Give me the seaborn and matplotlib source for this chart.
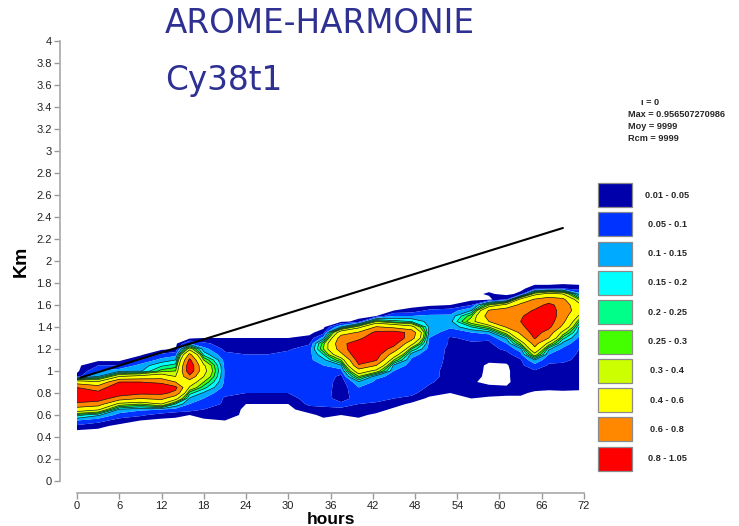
import numpy as np
import matplotlib
matplotlib.use("Agg")
import matplotlib.pyplot as plt
from matplotlib.patches import Rectangle
from matplotlib.ticker import FuncFormatter
import seaborn as sns

# ---- contour classes -------------------------------------------------------
levels = [0.01, 0.05, 0.1, 0.15, 0.2, 0.25, 0.3, 0.4, 0.6, 0.8, 1.05]
class_labels = ["0.01 - 0.05", "0.05 - 0.1", "0.1 - 0.15", "0.15 - 0.2",
                "0.2 - 0.25", "0.25 - 0.3", "0.3 - 0.4", "0.4 - 0.6",
                "0.6 - 0.8", "0.8 - 1.05"]
class_colors = ["#0000AA", "#0033FF", "#00AAFF", "#00FFFF", "#00FF88",
                "#44FF00", "#CCFF00", "#FFFF00", "#FF8800", "#FF0000"]
line_levels = [0.15, 0.2, 0.25, 0.3, 0.4, 0.6, 0.8]

# ---- vertical grid (km) ----------------------------------------------------
heights_km = np.round(np.arange(0.40, 1.851, 0.05), 2)

# ---- field profiles: forecast hour -> (lowest level km, values every 50 m) -
profiles = {
    0.0:  (0.45, [0, .04, .10, .22, .5, .75, .95, .95, .8, .5, .03, 0]),
    3.0:  (0.45, [0, .02, .07, .16, .42, .7, .9, .85, .7, .42, .15, .1, .05, 0]),
    6.0:  (0.50, [0, .03, .08, .14, .35, .7, .92, .95, .8, .4, .13, .05, 0]),
    9.0:  (0.50, [0, .01, .06, .11, .3, .6, .85, .95, .8, .45, .14, .12, .05, 0]),
    12.0: (0.55, [0, .03, .1, .4, .65, .85, .95, .75, .5, .27, .19, .12, .06, 0]),
    14.0: (0.55, [0, .02, .08, .2, .45, .75, .85, .6, .4, .3, .22, .15, .08, .01, 0]),
    16.0: (0.55, [0, .01, .07, .1, .14, .22, .38, .5, .75, .95, .96, .85, .65, .35, .1, 0]),
    18.0: (0.55, [0, .03, .05, .07, .1, .14, .22, .3, .4, .45, .42, .3, .18, .12, .06, .01, 0]),
    21.0: (0.50, [0, .01, .03, .04, .045, .045, .06, .08, .09, .09, .09, .085, .08, .06, .04, .03, .01, 0]),
    24.0: (0.65, [0, .01, .03, .05, .07, .08, .08, .08, .07, .06, .05, .04, .03, .01, 0]),
    27.0: (0.65, [0, .01, .03, .05, .07, .08, .08, .08, .07, .06, .05, .04, .03, .01, 0]),
    30.0: (0.65, [0, .01, .03, .05, .07, .08, .08, .08, .08, .07, .06, .045, .03, .01, 0]),
    33.0: (0.60, [0, .03, .06, .07, .08, .08, .085, .09, .09, .09, .09, .08, .07, .045, .02, 0]),
    35.0: (0.55, [0, .02, .04, .06, .07, .075, .08, .08, .085, .09, .1, .13, .2, .3, .28, .12, .03, 0]),
    37.5: (0.55, [0, .01, .045, .06, .03, .02, .02, .025, .035, .08, .14, .3, .55, .7, .75, .7, .5, .15, 0]),
    40.0: (0.55, [0, .02, .04, .05, .07, .09, .1, .14, .3, .5, .78, .9, .98, .98, .9, .75, .62, .35, .02, 0]),
    42.5: (0.60, [0, .03, .045, .06, .07, .08, .09, .11, .35, .6, .82, .9, .95, .97, .95, .85, .62, .3, .01, 0]),
    45.0: (0.65, [0, .03, .05, .07, .08, .085, .09, .1, .13, .3, .5, .72, .88, .95, .88, .55, .22, .1, .01, 0]),
    47.5: (0.70, [0, .04, .06, .07, .08, .08, .085, .085, .09, .12, .25, .45, .7, .75, .45, .2, .1, .02, 0]),
    50.0: (0.75, [0, .03, .045, .055, .06, .06, .065, .07, .075, .08, .09, .1, .13, .14, .13, .11, .06, 0]),
    53.0: (0.75, [0, .01, .03, .035, .04, .04, .04, .04, .04, .04, .045, .045, .07, .11, .13, .11, .07, .01, 0]),
    56.0: (0.70, [0, .01, .03, .025, .015, .025, .03, .035, .04, .04, .04, .045, .06, .1, .2, .35, .28, .15, .05, 0]),
    58.5: (0.75, [0, .03, .02, 0, 0, 0, 0, .02, .03, .035, .04, .06, .12, .3, .6, .7, .62, .3, 0, .015, 0]),
    61.0: (0.75, [0, .02, .015, 0, 0, 0, .005, .02, .035, .06, .1, .16, .35, .62, .72, .75, .72, .45, .05, 0]),
    63.0: (0.75, [0, .02, .03, .035, .04, .04, .04, .045, .08, .13, .3, .5, .65, .75, .8, .78, .72, .65, .45, .02, 0]),
    65.0: (0.80, [0, .03, .04, .04, .045, .08, .15, .35, .55, .68, .82, .88, .92, .92, .88, .82, .72, .62, .35, .03, 0]),
    67.0: (0.80, [0, .02, .035, .04, .04, .045, .06, .1, .16, .35, .6, .72, .85, .9, .92, .9, .85, .7, .45, .03, 0]),
    69.0: (0.80, [0, .025, .035, .04, .04, .045, .055, .07, .09, .13, .22, .35, .55, .65, .7, .72, .72, .65, .4, .05, 0]),
    71.3: (0.80, [0, .02, .035, .04, .04, .04, .045, .045, .05, .07, .09, .12, .15, .25, .38, .5, .45, .3, .12, .03, 0]),
}

# ---- reference slope line ---------------------------------------------------
trend_hours = [0.5, 69.0]
trend_km = [0.94, 2.30]

# ---- axis ticks -------------------------------------------------------------
hour_ticks = list(range(0, 73, 6))
km_ticks = [round(0.2 * i, 1) for i in range(21)]

# ---- annotation -------------------------------------------------------------
title_lines = ["AROME-HARMONIE", "Cy38t1"]
stats_lines = ["Max = 0.956507270986", "Moy = 9999", "Rcm = 9999"]
stats_head = "\u0131 = 0"

# assemble the (height x hour) field from the profiles
hours = np.array(sorted(profiles))
field = np.zeros((len(heights_km), len(hours)))
for j, h in enumerate(hours):
    base, vals = profiles[h]
    i0 = int(round((base - heights_km[0]) / 0.05))
    field[i0:i0 + len(vals), j] = vals

# ---- figure -----------------------------------------------------------------
W, H = 739, 526
sns.set_style("ticks")
plt.rcParams["font.family"] = ["Liberation Sans", "DejaVu Sans"]

fig = plt.figure(figsize=(W / 100, H / 100), dpi=100)


def fx(px):
    return px / W


def fy(py):
    return 1 - py / H


ax = fig.add_axes([fx(77), fy(481), fx(584) - fx(77), fy(41) - fy(481)])
ax.set_facecolor("white")

ax.contourf(hours, heights_km, field, levels=levels, colors=class_colors,
            antialiased=True)
ax.contour(hours, heights_km, field, levels=line_levels, colors="black",
           linewidths=0.45)
sns.lineplot(x=trend_hours, y=trend_km, ax=ax, color="black", linewidth=1.5)

ax.set_xlim(0, 72)
ax.set_ylim(0, 4)
ax.set_xticks(hour_ticks)
ax.set_yticks(km_ticks)
ax.yaxis.set_major_formatter(FuncFormatter(lambda v, p: f"{v:g}"))
ax.tick_params(axis="both", length=4, width=1, color="#9a9a9a",
               labelsize=8, labelcolor="#222222", pad=2)
for lab in ax.get_xticklabels() + ax.get_yticklabels():
    lab.set_fontweight("bold")

sns.despine(ax=ax, offset={"left": 12, "bottom": 8.5}, trim=True)
for side in ("left", "bottom"):
    ax.spines[side].set_color("#a8a8a8")
    ax.spines[side].set_linewidth(1.2)

ax.set_ylabel("Km", fontsize=14, fontweight="bold", color="black")
ax.yaxis.set_label_coords((30 - 77) / (584 - 77), 0.5)
ax.set_xlabel("hours", fontsize=12.5, fontweight="bold", color="black")
ax.xaxis.set_label_coords(0.5, -31 / 440)

# titles
fig.text(fx(165), fy(33), title_lines[0], fontsize=23.5, color="#2E3192",
         family="DejaVu Sans", va="baseline", ha="left")
fig.text(fx(165), fy(90), title_lines[1], fontsize=23.5, color="#2E3192",
         family="DejaVu Sans", va="baseline", ha="left")

# statistics block
fig.text(fx(641), fy(105), stats_head, fontsize=6.6, fontweight="bold",
         va="baseline", ha="left")
for k, line in enumerate(stats_lines):
    fig.text(fx(628), fy(117 + 12 * k), line, fontsize=6.6,
             fontweight="bold", va="baseline", ha="left")

# class legend
for k, (lab, col) in enumerate(zip(class_labels, class_colors)):
    top = 183 + 29.3 * k
    fig.patches.append(Rectangle((fx(598), fy(top + 24)), fx(34), 24 / H,
                                 transform=fig.transFigure, facecolor=col,
                                 edgecolor="#8a8a8a", linewidth=0.9))
    fig.text(fx(667), fy(top + 12), lab, fontsize=6.6, fontweight="bold",
             va="center", ha="center")

fig.savefig("out.png", dpi=100, facecolor="white")
